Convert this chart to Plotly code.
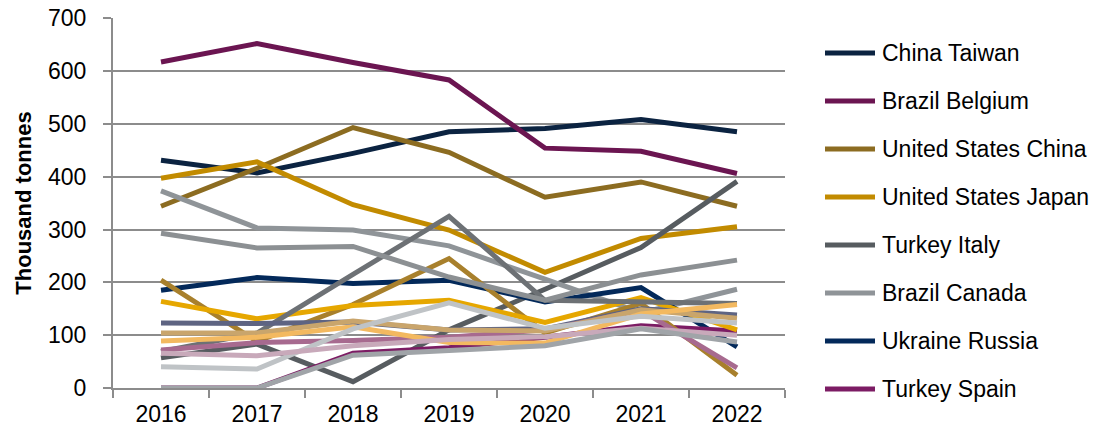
import plotly.graph_objects as go

years = ["2016", "2017", "2018", "2019", "2020", "2021", "2022"]

china_taiwan = [431, 407, 444, 485, 491, 508, 485]
brazil_belgium = [617, 652, 616, 583, 454, 448, 406]
us_china = [344, 416, 493, 446, 361, 390, 344]
us_japan = [397, 428, 347, 299, 219, 283, 305]
turkey_italy = [57, 83, 12, 110, 187, 266, 391]
brazil_canada = [373, 303, 299, 269, 206, 142, 187]
ukraine_russia = [185, 209, 198, 204, 163, 190, 78]
turkey_spain = [0, 0, 66, 76, 96, 118, 108]
series_9 = [204, 88, 158, 245, 104, 160, 24]
series_10 = [164, 131, 156, 166, 124, 171, 110]
series_11 = [69, 104, 215, 325, 166, 164, 160]
series_12 = [293, 265, 268, 210, 166, 214, 242]
series_13 = [123, 122, 125, 110, 112, 150, 138]
series_14 = [72, 86, 90, 96, 110, 147, 38]
series_15 = [104, 104, 127, 110, 108, 148, 132]
series_16 = [89, 96, 116, 86, 85, 140, 158]
series_17 = [40, 36, 112, 161, 113, 136, 123]
series_18 = [66, 61, 80, 92, 97, 113, 100]
series_19 = [0, 0, 62, 72, 80, 112, 87]

series = [
    ("China Taiwan", china_taiwan, "#0b2341", True),
    ("Brazil Belgium", brazil_belgium, "#6b1551", True),
    ("United States China", us_china, "#8c6c21", True),
    ("United States Japan", us_japan, "#c28b00", True),
    ("Turkey Italy", turkey_italy, "#575c60", True),
    ("Brazil Canada", brazil_canada, "#8f9498", True),
    ("Ukraine Russia", ukraine_russia, "#03295a", True),
    ("Turkey Spain", turkey_spain, "#7c1c64", True),
    ("Series 9", series_9, "#a8802c", False),
    ("Series 10", series_10, "#e6a700", False),
    ("Series 11", series_11, "#6d7175", False),
    ("Series 12", series_12, "#8c9093", False),
    ("Series 13", series_13, "#5e6482", False),
    ("Series 14", series_14, "#a76a8f", False),
    ("Series 15", series_15, "#c9a56c", False),
    ("Series 16", series_16, "#f3b960", False),
    ("Series 17", series_17, "#bfc3c6", False),
    ("Series 18", series_18, "#c8a9ba", False),
    ("Series 19", series_19, "#a0a4a8", False),
]

W, H = 1097, 438
PLOT_L, PLOT_R, PLOT_T, PLOT_B = 113, 785, 18, 388
ML, MR, MT, MB = PLOT_L, W - PLOT_R, PLOT_T, H - PLOT_B

fig = go.Figure()
for name, vals, color, show in series:
    fig.add_trace(go.Scatter(
        x=years, y=vals, mode="lines", name=name,
        line=dict(color=color, width=5),
        showlegend=False,
    ))

def px_x(p):
    return (p - PLOT_L) / (PLOT_R - PLOT_L)

def px_y(p):
    return (PLOT_B - p) / (PLOT_B - PLOT_T)

shapes = []
annotations = []
legend_entries = [s for s in series if s[3]]
for k, (name, vals, color, show) in enumerate(legend_entries):
    yc = 53 + 48 * k
    shapes.append(dict(type="line", xref="paper", yref="paper",
                       x0=px_x(825), x1=px_x(875), y0=px_y(yc), y1=px_y(yc),
                       line=dict(color=color, width=5)))
    annotations.append(dict(xref="paper", yref="paper", x=px_x(880), y=px_y(yc),
                            xanchor="left", yanchor="middle", showarrow=False,
                            text=name, font=dict(size=23, color="#000000")))

fig.update_layout(
    width=W, height=H,
    margin=dict(l=ML, r=MR, t=MT, b=MB),
    plot_bgcolor="white", paper_bgcolor="white",
    font=dict(family="Liberation Sans, Arial, sans-serif", color="#000000"),
    showlegend=False,
    shapes=shapes,
    annotations=annotations,
    xaxis=dict(
        type="category", showgrid=False, showline=True, linecolor="#8c8c8c", linewidth=2,
        ticks="outside", tickson="boundaries", ticklen=8, tickcolor="#8c8c8c", tickwidth=2,
        tickfont=dict(size=23), range=[-0.5, 6.5], ticklabelstandoff=4, automargin=False,
    ),
    yaxis=dict(
        range=[0, 700.3], tickvals=[0, 100, 200, 300, 400, 500, 600, 700],
        showgrid=True, gridcolor="#8c8c8c", gridwidth=2,
        showline=True, linecolor="#8c8c8c", linewidth=2, zeroline=False,
        ticks="outside", ticklen=8, tickcolor="#8c8c8c", tickwidth=2,
        tickfont=dict(size=23), ticklabelstandoff=12, automargin=False,
        ticklabeloverflow="allow",
        title=dict(text="<b>Thousand tonnes</b>", font=dict(size=22), standoff=10),
    ),
)

fig.write_html("out.html", config={"displayModeBar": False},
               post_script="document.body.style.margin='0px';")
